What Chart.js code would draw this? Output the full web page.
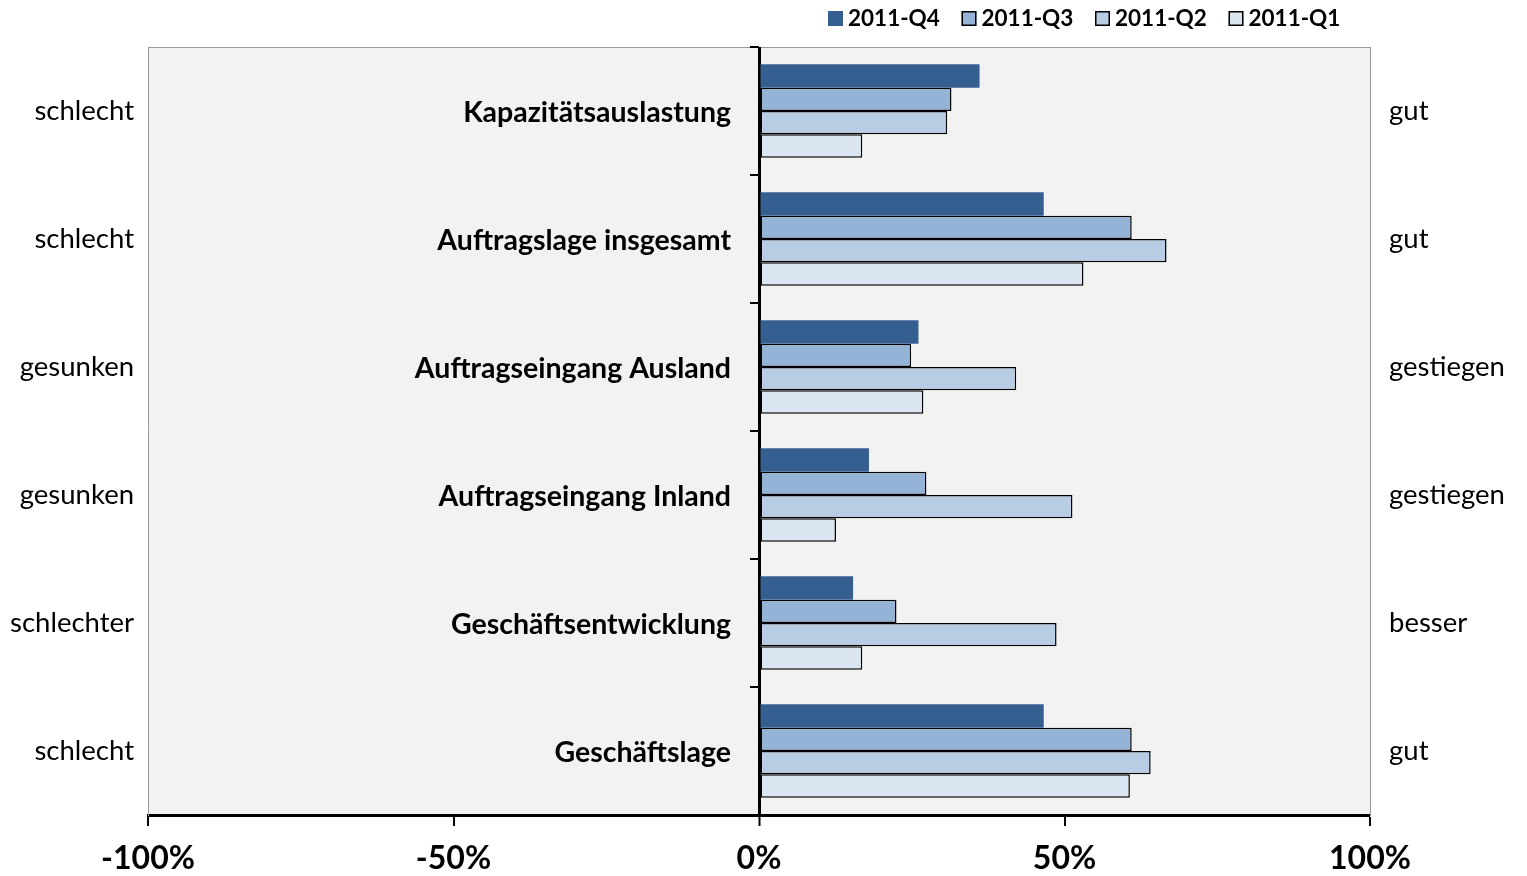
<!DOCTYPE html>
<html>
<head>
<meta charset="utf-8">
<script src="https://cdn.jsdelivr.net/npm/chart.js@4"></script>
<style>
  html, body { margin: 0; padding: 0; background: #fff; }
  #wrap { width: 1527px; height: 876px; }
</style>
</head>
<body>
<div id="wrap"><canvas id="umfrageChart"></canvas></div>
<script>
// Kategorien und Beschriftungen
const categories = ['Kapazitätsauslastung', 'Auftragslage insgesamt', 'Auftragseingang Ausland',
    'Auftragseingang Inland', 'Geschäftsentwicklung', 'Geschäftslage'];
const leftLabels = ['schlecht', 'schlecht', 'gesunken', 'gesunken', 'schlechter', 'schlecht'];
const rightLabels = ['gut', 'gut', 'gestiegen', 'gestiegen', 'besser', 'gut'];
const quarters = ['2011-Q4', '2011-Q3', '2011-Q2', '2011-Q1'];
const xTicks = [-100, -50, 0, 50, 100];

// Saldo in %
const q4 = [36.1, 46.6, 26.1, 18.0, 15.4, 46.6];
const q3 = [31.5, 61.0, 24.9, 27.4, 22.5, 61.0];
const q2 = [30.8, 66.7, 42.1, 51.3, 48.7, 64.1];
const q1 = [16.9, 53.1, 26.9, 12.6, 16.9, 60.7];

const colors = ['#365f91', '#95b3d7', '#b8cce4', '#dbe5f1'];
const FONT = 'Lato, "DejaVu Sans", sans-serif';

const plotBg = {
    id: 'plotBg',
    beforeDraw(chart) {
        const a = chart.chartArea, c = chart.ctx;
        c.save();
        c.fillStyle = '#f2f2f2';
        c.fillRect(a.left, a.top, a.right - a.left, a.bottom - a.top);
        c.strokeStyle = '#999';
        c.lineWidth = 1;
        c.beginPath();
        c.moveTo(a.left, a.top + 0.5);
        c.lineTo(a.right, a.top + 0.5);
        c.stroke();
        c.restore();
    },
    afterDraw(chart) {
        const c = chart.ctx, x = chart.scales.x, y = chart.scales.y;
        const x0 = x.getPixelForValue(0);
        c.save();
        // Teilstriche an der Nulllinie
        c.strokeStyle = '#000';
        c.lineWidth = 2;
        for (let i = 0; i <= categories.length; i++) {
            const py = y.getPixelForValue(i - 0.5);
            c.beginPath();
            c.moveTo(x0 - 9, py);
            c.lineTo(x0, py);
            c.stroke();
        }
        // Kategorienamen
        c.fillStyle = '#000';
        c.font = 'bold 28.5px ' + FONT;
        c.textAlign = 'right';
        c.textBaseline = 'middle';
        categories.forEach((name, i) => {
            c.fillText(name, x0 - 28, y.getPixelForValue(i) + 2);
        });
        // Legende
        c.font = 'bold 22.5px ' + FONT;
        c.textAlign = 'left';
        let lx = 828;
        chart.data.datasets.forEach((ds) => {
            c.fillStyle = ds.backgroundColor;
            c.fillRect(lx, 11, 15, 15);
            if (ds.borderWidth) {
                c.strokeStyle = '#000';
                c.lineWidth = 1.5;
                c.strokeRect(lx + 0.75, 11.75, 13.5, 13.5);
            }
            c.fillStyle = '#000';
            c.fillText(ds.label, lx + 20, 19);
            lx += 133.5;
        });
        c.restore();
    }
};

const seriesData = [q4, q3, q2, q1];
const datasets = quarters.map((q, i) => ({
    label: q,
    data: seriesData[i],
    backgroundColor: colors[i],
    borderColor: '#000',
    borderWidth: i === 0 ? 0 : 1.5,
    borderSkipped: false,
    categoryPercentage: 0.73,
    barPercentage: 1.0,
    yAxisID: 'y'
}));

new Chart(document.getElementById('umfrageChart'), {
    type: 'bar',
    data: { labels: categories, datasets: datasets },
    options: {
        indexAxis: 'y',
        responsive: true,
        maintainAspectRatio: false,
        animation: false,
        layout: { padding: { top: 47, left: 0, right: 0, bottom: 0 } },
        plugins: {
            legend: { display: false },
            tooltip: { enabled: false }
        },
        scales: {
            x: {
                min: -100,
                max: 100,
                afterBuildTicks: (s) => { s.ticks = xTicks.map(v => ({ value: v })); },
                afterFit: (s) => { s.height = 61; },
                border: { color: '#000', width: 3 },
                grid: {
                    drawOnChartArea: true,
                    color: (ctx) => ctx.tick && ctx.tick.value === 0 ? '#000' : 'rgba(0,0,0,0)',
                    lineWidth: (ctx) => ctx.tick && ctx.tick.value === 0 ? 3 : 0,
                    tickColor: '#000',
                    tickWidth: 2,
                    tickLength: 11
                },
                ticks: {
                    color: '#000',
                    font: { family: FONT, size: 32, weight: 'bold' },
                    padding: 13,
                    maxRotation: 0,
                    callback: (v) => v + '%'
                }
            },
            y: {
                type: 'category',
                labels: categories,
                position: 'left',
                afterFit: (s) => { s.width = 148; },
                border: { color: '#999', width: 1 },
                grid: { drawOnChartArea: false, drawTicks: false },
                ticks: {
                    color: '#000',
                    font: { family: FONT, size: 27.5 },
                    padding: 14,
                    callback: (v, i) => leftLabels[i]
                }
            },
            y2: {
                type: 'category',
                labels: rightLabels,
                position: 'right',
                offset: true,
                afterFit: (s) => { s.width = 157; },
                border: { color: '#999', width: 1 },
                grid: { drawOnChartArea: false, drawTicks: false },
                ticks: {
                    color: '#000',
                    font: { family: FONT, size: 27.5 },
                    padding: 19,
                    callback: (v, i) => rightLabels[i]
                }
            }
        }
    },
    plugins: [plotBg]
});
</script>
</body>
</html>
